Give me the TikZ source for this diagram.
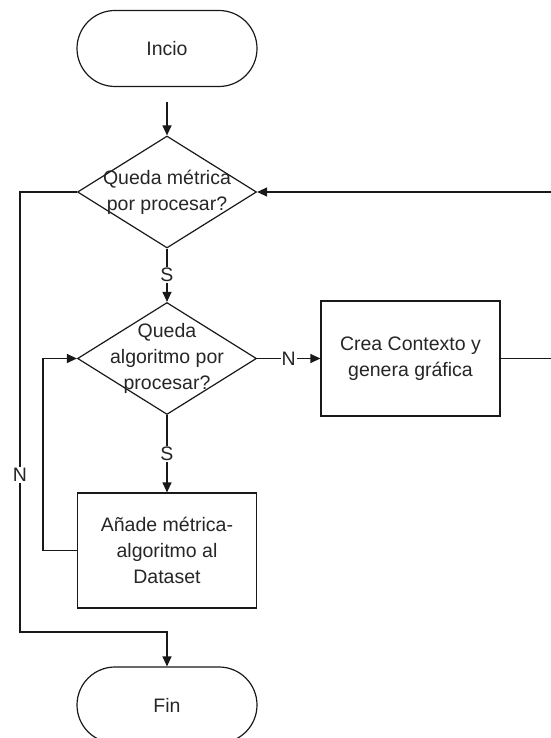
\documentclass[tikz,border=0pt]{standalone}
\usepackage{fontspec}
\setmainfont{Liberation Sans}
\usetikzlibrary{arrows.meta,shapes.geometric}

\begin{document}
\begin{tikzpicture}[x=1pt,y=-1pt,
  every node/.style={font=\fontsize{19.5}{26}\selectfont, text=black!85},
  line/.style={draw=black!90, line width=1.2pt},
  flow/.style={line, -{Triangle[length=10pt,width=9pt]}},
  terminal/.style={draw=black!90, line width=1.2pt, rectangle, rounded corners=38pt,
    minimum width=180pt, minimum height=76pt, inner sep=0pt},
  decision/.style={draw=black!90, line width=1.2pt, diamond, aspect=1.6,
    minimum width=179pt, minimum height=112pt, inner sep=0pt},
  process/.style={draw=black!90, line width=1.2pt, rectangle,
    minimum width=179pt, minimum height=115pt, inner sep=0pt, align=center},
  tag/.style={fill=white, inner sep=1pt}]

  \useasboundingbox (0,0) rectangle (550,738);

  % shapes
  \node[terminal] (inicio) at (167,48.5) {Incio};
  \node[decision, label={[align=center]center:Queda métrica\\por procesar?}] (metrica) at (167,192) {};
  \node[decision, label={[align=center]center:Queda\\algoritmo por\\procesar?}] (algoritmo) at (167,358.5) {};
  \node[process] (contexto) at (410.5,358.5) {Crea Contexto y\\genera gráfica};
  \node[process] (anade) at (167,550.5) {Añade métrica-\\algoritmo al\\Dataset};
  \node[terminal] (fin) at (167,705) {Fin};

  % bend points of the connectors
  \coordinate (nl1) at (20,192);
  \coordinate (nl2) at (20,632);
  \coordinate (nl3) at (167,632);
  \coordinate (lp1) at (43,550.5);
  \coordinate (lp2) at (43,358.5);
  \coordinate (rt1) at (553,358.5);
  \coordinate (rt2) at (553,192);

  % connectors
  \draw[flow, shorten <=15pt] (inicio) -- (metrica);
  \draw[flow] (metrica) -- node[tag] {S} (algoritmo);
  \draw[flow] (algoritmo) -- node[tag] {S} (anade);
  \draw[flow] (algoritmo) -- node[tag] {N} (contexto);
  \draw[flow] (anade.west) -- (lp1) -- (lp2) -- (algoritmo.west);
  \draw[flow] (contexto.east) -- (rt1) -- (rt2) -- (metrica.east);
  \draw[flow] (metrica.west) -- (nl1) -- node[tag, pos=0.643] {N} (nl2) -- (nl3) -- (fin);
\end{tikzpicture}
\end{document}
